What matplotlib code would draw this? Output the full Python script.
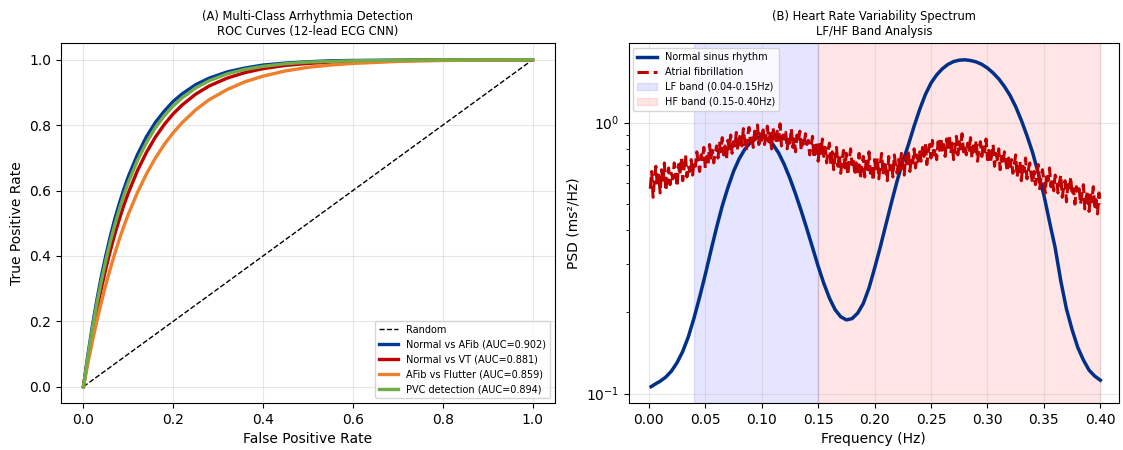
import matplotlib
matplotlib.use("Agg")
import matplotlib.pyplot as plt
import numpy as np

# ---------------------------------------------------------------------------
# (A) ROC curves
# ---------------------------------------------------------------------------
FPR = [0.0, 0.01, 0.02, 0.03, 0.04, 0.05, 0.06, 0.07, 0.08, 0.09, 0.10,
       0.12, 0.14, 0.16, 0.18, 0.20, 0.22, 0.25, 0.28, 0.32, 0.36, 0.40,
       0.45, 0.50, 0.55, 0.60, 0.70, 0.80, 0.90, 1.00]

TPR_AFIB = [0.0, 0.098, 0.186, 0.266, 0.338, 0.402, 0.461, 0.514, 0.561, 0.604, 0.643,
            0.709, 0.764, 0.808, 0.843, 0.873, 0.896, 0.924, 0.944, 0.963, 0.975, 0.984,
            0.990, 0.994, 0.997, 0.998, 0.999, 1.0, 1.0, 1.0]
TPR_VT = [0.0, 0.086, 0.165, 0.237, 0.302, 0.362, 0.417, 0.467, 0.513, 0.555, 0.593,
          0.660, 0.716, 0.763, 0.802, 0.835, 0.862, 0.895, 0.920, 0.944, 0.961, 0.973,
          0.983, 0.989, 0.993, 0.995, 0.998, 0.999, 1.0, 1.0]
TPR_FLUTTER = [0.0, 0.072, 0.139, 0.202, 0.259, 0.313, 0.362, 0.408, 0.451, 0.491, 0.528,
               0.593, 0.650, 0.699, 0.741, 0.777, 0.808, 0.847, 0.878, 0.909, 0.933, 0.950,
               0.966, 0.977, 0.984, 0.989, 0.995, 0.998, 0.999, 1.0]
TPR_PVC = [0.0, 0.093, 0.178, 0.255, 0.324, 0.387, 0.445, 0.496, 0.543, 0.586, 0.625,
           0.691, 0.746, 0.792, 0.829, 0.859, 0.884, 0.914, 0.936, 0.957, 0.971, 0.980,
           0.988, 0.993, 0.995, 0.997, 0.999, 1.0, 1.0, 1.0]

ROC_LABELS = ["Normal vs AFib (AUC=0.902)", "Normal vs VT (AUC=0.881)",
              "AFib vs Flutter (AUC=0.859)", "PVC detection (AUC=0.894)"]
ROC_COLORS = ["#003a96", "#c00000", "#ef7f2a", "#70ad47"]

# ---------------------------------------------------------------------------
# (B) HRV spectrum
# ---------------------------------------------------------------------------
FREQ_NSR = [0.002, 0.005, 0.01, 0.015, 0.02, 0.025, 0.03, 0.035, 0.04, 0.045,
            0.05, 0.055, 0.06, 0.065, 0.07, 0.075, 0.08, 0.085, 0.09, 0.095,
            0.10, 0.105, 0.11, 0.115, 0.12, 0.125, 0.13, 0.135, 0.14, 0.145,
            0.15, 0.155, 0.16, 0.165, 0.17, 0.175, 0.18, 0.185, 0.19, 0.195,
            0.20, 0.205, 0.21, 0.215, 0.22, 0.225, 0.23, 0.235, 0.24, 0.245,
            0.25, 0.255, 0.26, 0.265, 0.27, 0.275, 0.28, 0.285, 0.29, 0.295,
            0.30, 0.305, 0.31, 0.315, 0.32, 0.325, 0.33, 0.335, 0.34, 0.345,
            0.35, 0.355, 0.36, 0.365, 0.37, 0.375, 0.38, 0.385, 0.39, 0.395, 0.40]
PSD_NSR = [0.106, 0.108, 0.111, 0.115, 0.121, 0.130, 0.143, 0.162, 0.190, 0.227,
           0.275, 0.337, 0.410, 0.492, 0.575, 0.660, 0.735, 0.797, 0.845, 0.875,
           0.885, 0.870, 0.830, 0.772, 0.700, 0.622, 0.545, 0.472, 0.405, 0.346,
           0.295, 0.255, 0.225, 0.204, 0.192, 0.187, 0.189, 0.198, 0.215, 0.245,
           0.290, 0.347, 0.420, 0.508, 0.610, 0.718, 0.830, 0.970, 1.120, 1.270,
           1.400, 1.500, 1.580, 1.640, 1.680, 1.700, 1.705, 1.695, 1.675, 1.640,
           1.590, 1.525, 1.450, 1.360, 1.260, 1.145, 1.020, 0.895, 0.775, 0.650,
           0.540, 0.430, 0.345, 0.260, 0.205, 0.172, 0.148, 0.133, 0.122, 0.116, 0.112]

FREQ_AF = np.round(np.arange(1, 321) * 0.00125, 5)
PSD_AF = [
    0.57, 0.66, 0.53, 0.62, 0.69, 0.58, 0.64, 0.55, 0.67, 0.60, 0.71, 0.56, 0.63, 0.68, 0.59, 0.65,
    0.62, 0.71, 0.65, 0.58, 0.70, 0.64, 0.74, 0.61, 0.68, 0.76, 0.63, 0.69, 0.66, 0.73, 0.64, 0.72,
    0.69, 0.78, 0.71, 0.66, 0.76, 0.73, 0.81, 0.68, 0.75, 0.70, 0.83, 0.74, 0.79, 0.71, 0.77, 0.82,
    0.74, 0.84, 0.78, 0.88, 0.76, 0.82, 0.73, 0.86, 0.80, 0.90, 0.77, 0.85, 0.81, 0.92, 0.79, 0.87,
    0.91, 0.82, 0.95, 0.85, 0.79, 0.89, 0.96, 0.84, 0.90, 0.81, 0.93, 0.87, 0.98, 0.83, 0.92, 0.86,
    0.94, 0.83, 0.89, 0.97, 0.85, 0.91, 0.80, 0.96, 0.88, 0.84, 0.93, 0.86, 0.99, 0.82, 0.90, 0.87,
    0.92, 0.80, 0.88, 0.84, 0.95, 0.81, 0.87, 0.78, 0.90, 0.85, 0.93, 0.79, 0.86, 0.82, 0.91, 0.83,
    0.86, 0.76, 0.82, 0.89, 0.74, 0.80, 0.85, 0.72, 0.83, 0.77, 0.87, 0.75, 0.81, 0.71, 0.79, 0.84,
    0.70, 0.78, 0.67, 0.75, 0.81, 0.69, 0.76, 0.65, 0.73, 0.79, 0.68, 0.77, 0.64, 0.72, 0.80, 0.70,
    0.74, 0.64, 0.71, 0.66, 0.77, 0.62, 0.70, 0.75, 0.63, 0.72, 0.67, 0.78, 0.65, 0.69, 0.61, 0.73,
    0.66, 0.74, 0.62, 0.70, 0.77, 0.64, 0.72, 0.68, 0.61, 0.75, 0.67, 0.71, 0.63, 0.76, 0.69, 0.65,
    0.73, 0.67, 0.77, 0.70, 0.64, 0.75, 0.69, 0.79, 0.66, 0.74, 0.71, 0.80, 0.68, 0.76, 0.72, 0.78,
    0.72, 0.81, 0.75, 0.84, 0.70, 0.78, 0.83, 0.74, 0.86, 0.76, 0.80, 0.73, 0.85, 0.79, 0.88, 0.77,
    0.83, 0.75, 0.87, 0.79, 0.90, 0.77, 0.84, 0.73, 0.81, 0.89, 0.76, 0.85, 0.80, 0.91, 0.78, 0.82,
    0.76, 0.84, 0.79, 0.88, 0.74, 0.82, 0.77, 0.86, 0.72, 0.80, 0.85, 0.75, 0.83, 0.78, 0.87, 0.73,
    0.79, 0.71, 0.76, 0.83, 0.69, 0.77, 0.73, 0.80, 0.67, 0.75, 0.70, 0.78, 0.72, 0.66, 0.74, 0.69,
    0.73, 0.65, 0.70, 0.76, 0.63, 0.68, 0.72, 0.61, 0.69, 0.66, 0.74, 0.62, 0.67, 0.71, 0.64, 0.60,
    0.66, 0.59, 0.64, 0.70, 0.57, 0.63, 0.67, 0.60, 0.55, 0.65, 0.61, 0.68, 0.58, 0.62, 0.56, 0.64,
    0.62, 0.55, 0.60, 0.64, 0.53, 0.58, 0.61, 0.51, 0.59, 0.56, 0.63, 0.54, 0.57, 0.50, 0.58, 0.55,
    0.57, 0.50, 0.55, 0.59, 0.48, 0.53, 0.56, 0.47, 0.54, 0.51, 0.58, 0.49, 0.52, 0.46, 0.55, 0.50,
]

LF_BAND = (0.04, 0.15)
HF_BAND = (0.15, 0.40)

# ---------------------------------------------------------------------------
# Plot
# ---------------------------------------------------------------------------
fig = plt.figure(figsize=(11.23, 4.5), dpi=100)
ax1 = fig.add_axes([0.0543, 0.1044, 0.4399, 0.799])
ax2 = fig.add_axes([0.5597, 0.1044, 0.4368, 0.799])

ax1.plot([0, 1], [0, 1], "k--", linewidth=1, label="Random")
for tpr, lab, col in zip([TPR_AFIB, TPR_VT, TPR_FLUTTER, TPR_PVC], ROC_LABELS, ROC_COLORS):
    ax1.plot(FPR, tpr, color=col, linewidth=2.4, label=lab)

ax1.set_xlim(-0.05, 1.05)
ax1.set_ylim(-0.05, 1.05)
ax1.set_xlabel("False Positive Rate", fontsize=10)
ax1.set_ylabel("True Positive Rate", fontsize=10)
ax1.set_title("(A) Multi-Class Arrhythmia Detection\nROC Curves (12-lead ECG CNN)", fontsize=8.3)
ax1.grid(True, alpha=0.3)
ax1.legend(loc="lower right", fontsize=7)

ax2.axvspan(*LF_BAND, color="blue", alpha=0.1, label="LF band (0.04-0.15Hz)")
ax2.axvspan(*HF_BAND, color="red", alpha=0.1, label="HF band (0.15-0.40Hz)")
ax2.semilogy(FREQ_NSR, PSD_NSR, color="#003087", linewidth=2.5, label="Normal sinus rhythm")
ax2.semilogy(FREQ_AF, PSD_AF, color="#c00000", linestyle="--", linewidth=2.2,
             label="Atrial fibrillation")

ax2.set_xlim(-0.018, 0.4166)
ax2.set_xticks(np.arange(0, 0.41, 0.05))
ax2.set_xlabel("Frequency (Hz)", fontsize=10)
ax2.set_ylabel("PSD (ms²/Hz)", fontsize=10)
ax2.set_title("(B) Heart Rate Variability Spectrum\nLF/HF Band Analysis", fontsize=8.3)
ax2.grid(True, alpha=0.3)

h, l = ax2.get_legend_handles_labels()
order = [2, 3, 0, 1]
ax2.legend([h[i] for i in order], [l[i] for i in order], loc="upper left", fontsize=7)

fig.savefig("out.png", dpi=100)
